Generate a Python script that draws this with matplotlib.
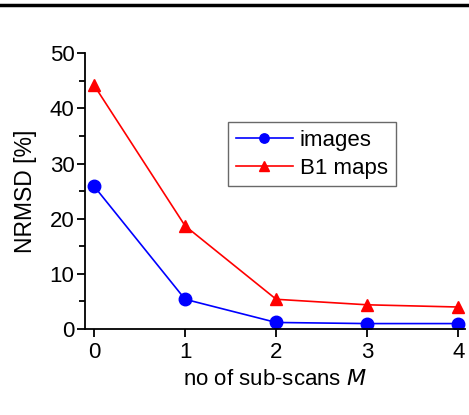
import numpy as np
import matplotlib
matplotlib.use("Agg")
import matplotlib.pyplot as plt
from matplotlib.lines import Line2D
from matplotlib.ticker import MultipleLocator

plt.rcParams['font.family'] = ['Liberation Sans', 'DejaVu Sans']

# data
m = [0, 1, 2, 3, 4]
images = [25.9, 5.4, 1.2, 1.0, 1.0]
b1_maps = [44.2, 18.7, 5.4, 4.4, 4.0]

fig = plt.figure(figsize=(4.69, 4.15), dpi=100)
ax = fig.add_axes([0.181, 0.207, 0.81, 0.665])

ax.plot(m, images, color='blue', marker='o', markersize=9, lw=1.2, label='images')
ax.plot(m, b1_maps, color='red', marker='^', markersize=9, lw=1.2, label='B1 maps')

ax.set_xlim(-0.1, 4.07)
ax.set_ylim(0, 50)
ax.xaxis.set_major_locator(MultipleLocator(1))
ax.yaxis.set_major_locator(MultipleLocator(10))
ax.yaxis.set_minor_locator(MultipleLocator(5))
ax.spines['top'].set_visible(False)
ax.spines['right'].set_visible(False)
for s in ['left', 'bottom']:
    ax.spines[s].set_linewidth(1.3)
ax.tick_params(axis='both', which='major', labelsize=16, width=1.3, length=5.5,
               direction='out', pad=2)
ax.tick_params(axis='x', which='major', pad=4)
ax.tick_params(axis='y', which='minor', width=1.3, length=4)
ax.set_ylabel('NRMSD [%]', fontsize=16.5, labelpad=9)
ax.set_xlabel('no of sub-scans $\\mathit{M}$', fontsize=16, labelpad=4)

leg = ax.legend(loc='upper left', bbox_to_anchor=(0.376, 0.75), fontsize=16,
                fancybox=False, edgecolor='#444444', handlelength=2.6,
                borderpad=0.35, labelspacing=0.3, handletextpad=0.3,
                borderaxespad=0, markerscale=0.75)
leg.get_frame().set_linewidth(1.0)

# black rule across the top
fig.add_artist(Line2D([0, 1], [0.988, 0.988], color='black', lw=2.5, transform=fig.transFigure))

fig.savefig('out.png', dpi=100)
